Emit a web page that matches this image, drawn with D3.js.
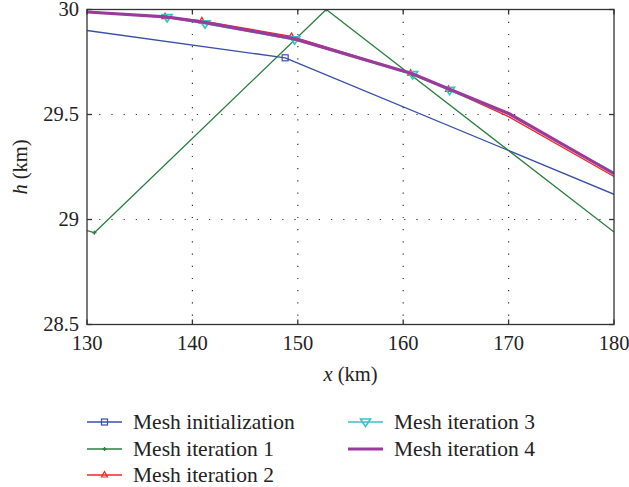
<!DOCTYPE html>
<html lang="en">
<head>
<meta charset="UTF-8">
<title>Mesh iterations</title>
<script src="https://d3js.org/d3.v7.min.js"></script>
<style>
  body { margin: 0; background: #fff; }
  text { font-family: "Liberation Serif", "DejaVu Serif", serif; fill: #222; }
  .grid line { stroke: #333; stroke-width: 1.2px; stroke-dasharray: 1.2,11; }
</style>
</head>
<body>
<div id="chart"></div>
<script>
// data
const xTicks = [130, 140, 150, 160, 170, 180];
const yTicks = [28.5, 29, 29.5, 30];
const yTickLabels = ["28.5", "29", "29.5", "30"];

const initX = [130, 148.8, 180];
const initH = [29.9, 29.77, 29.12];

const iter1X = [130, 130.7, 152.7, 180];
const iter1H = [28.947, 28.937, 30.0, 28.94];

const iter2X = [130, 137.4, 140.9, 149.4, 160.7, 164.3, 170, 180];
const iter2H = [29.99, 29.966, 29.946, 29.872, 29.697, 29.62, 29.49, 29.205];

const iter3X = [130, 137.6, 141.2, 149.7, 160.9, 164.4, 170, 180];
const iter3H = [29.99, 29.962, 29.932, 29.856, 29.69, 29.615, 29.5, 29.225];

const iter4X = [130, 137.5, 141, 149.7, 160.8, 164.4, 170, 180];
const iter4H = [29.988, 29.965, 29.94, 29.86, 29.695, 29.62, 29.505, 29.218];

const seriesNames = ["Mesh initialization", "Mesh iteration 1", "Mesh iteration 2",
                     "Mesh iteration 3", "Mesh iteration 4"];

const series = [
  { name: seriesNames[0], xs: initX, hs: initH, color: "#3a4fa8", width: 1.3, marker: "square" },
  { name: seriesNames[1], xs: iter1X, hs: iter1H, color: "#2a8040", width: 1.3, marker: "plus" },
  { name: seriesNames[2], xs: iter2X, hs: iter2H, color: "#f02828", width: 1.3, marker: "up" },
  { name: seriesNames[3], xs: iter3X, hs: iter3H, color: "#3cc2c2", width: 1.3, marker: "down" },
  { name: seriesNames[4], xs: iter4X, hs: iter4H, color: "#9a3b9c", width: 3.2, marker: null }
];

const W = 629, H = 487;
const m = { left: 87, right: 15, top: 9.5, bottom: 162.5 };
const iw = W - m.left - m.right, ih = H - m.top - m.bottom;

const svg = d3.select("#chart").append("svg").attr("width", W).attr("height", H);
const g = svg.append("g").attr("transform", `translate(${m.left},${m.top})`);

const x = d3.scaleLinear().domain([130, 180]).range([0, iw]);
const y = d3.scaleLinear().domain([28.5, 30]).range([ih, 0]);

// dotted grid
const grid = g.append("g").attr("class", "grid");
grid.selectAll(".gx").data(xTicks.slice(1, -1)).enter().append("line")
  .attr("x1", d => x(d)).attr("x2", d => x(d)).attr("y1", 0).attr("y2", ih);
grid.selectAll(".gy").data(yTicks.slice(1, -1)).enter().append("line")
  .attr("y1", d => y(d)).attr("y2", d => y(d)).attr("x1", 0).attr("x2", iw);

// clip
svg.append("defs").append("clipPath").attr("id", "clip")
  .append("rect").attr("width", iw).attr("height", ih);
const plot = g.append("g").attr("clip-path", "url(#clip)");

const line = d3.line().x(d => x(d[0])).y(d => y(d[1]));

function drawMarker(sel, type, color) {
  if (type === "square") {
    sel.append("rect").attr("x", -3).attr("y", -3).attr("width", 6).attr("height", 6)
      .attr("fill", "none").attr("stroke", color).attr("stroke-width", 1.2);
  } else if (type === "plus") {
    sel.append("path").attr("d", "M-2,0H2M0,-2V2").attr("stroke", color).attr("stroke-width", 1.3);
  } else if (type === "up") {
    sel.append("path").attr("d", "M0,-3.5L3,2L-3,2Z")
      .attr("fill", "none").attr("stroke", color).attr("stroke-width", 1.2);
  } else if (type === "down") {
    sel.append("path").attr("d", "M-5,-3L5,-3L0,4.5Z")
      .attr("fill", "none").attr("stroke", color).attr("stroke-width", 1.6);
  }
}

series.forEach(s => {
  const pts = s.xs.map((v, i) => [v, s.hs[i]]);
  plot.append("path").datum(pts).attr("d", line)
    .attr("fill", "none").attr("stroke", s.color).attr("stroke-width", s.width)
    .attr("stroke-linejoin", "round");
  if (s.marker) {
    // the reference shows no markers at the end points or at 170
    pts.filter(p => p[0] > 130 && p[0] < 168).forEach(p => {
      const mk = plot.append("g").attr("transform", `translate(${x(p[0])},${y(p[1])})`);
      drawMarker(mk, s.marker, s.color);
    });
  }
});

// frame and inward ticks
g.append("rect").attr("width", iw).attr("height", ih)
  .attr("fill", "none").attr("stroke", "#333").attr("stroke-width", 1.3);

const tk = 5;
const ticks = g.append("g").attr("stroke", "#333").attr("stroke-width", 1.3);
xTicks.forEach(t => {
  ticks.append("line").attr("x1", x(t)).attr("x2", x(t)).attr("y1", ih).attr("y2", ih - tk);
  ticks.append("line").attr("x1", x(t)).attr("x2", x(t)).attr("y1", 0).attr("y2", tk);
});
yTicks.forEach(t => {
  ticks.append("line").attr("y1", y(t)).attr("y2", y(t)).attr("x1", 0).attr("x2", tk);
  ticks.append("line").attr("y1", y(t)).attr("y2", y(t)).attr("x1", iw).attr("x2", iw - tk);
});

// tick labels
g.selectAll(".xl").data(xTicks).enter().append("text")
  .attr("x", d => x(d)).attr("y", ih + 25).attr("text-anchor", "middle")
  .attr("font-size", 20.5).text(d => d);
g.selectAll(".yl").data(yTicks).enter().append("text")
  .attr("x", -8).attr("y", d => y(d) + 6.5).attr("text-anchor", "end")
  .attr("font-size", 20.5).text((d, i) => yTickLabels[i]);

// axis titles
const xt = g.append("text").attr("x", iw / 2).attr("y", ih + 56)
  .attr("text-anchor", "middle").attr("font-size", 20.5);
xt.append("tspan").attr("font-style", "italic").text("x");
xt.append("tspan").text(" (km)");

const yt = svg.append("text").attr("transform", `translate(27,${m.top + ih / 2}) rotate(-90)`)
  .attr("text-anchor", "middle").attr("font-size", 20.5);
yt.append("tspan").attr("font-style", "italic").text("h");
yt.append("tspan").text(" (km)");

// legend
const legendPos = [[87, 422], [87, 449], [87, 475], [348, 422], [348, 449]];
series.forEach((s, i) => {
  const [lx, ly] = legendPos[i];
  const lg = svg.append("g").attr("transform", `translate(${lx},${ly})`);
  lg.append("line").attr("x1", 0).attr("x2", 35).attr("stroke", s.color)
    .attr("stroke-width", s.width === 1.3 ? 1.3 : 3);
  if (s.marker) {
    const mk = lg.append("g").attr("transform", "translate(17.5,0)");
    drawMarker(mk, s.marker, s.color);
  }
  lg.append("text").attr("x", 46).attr("y", 7).attr("font-size", 21.5).text(s.name);
});
</script>
</body>
</html>
